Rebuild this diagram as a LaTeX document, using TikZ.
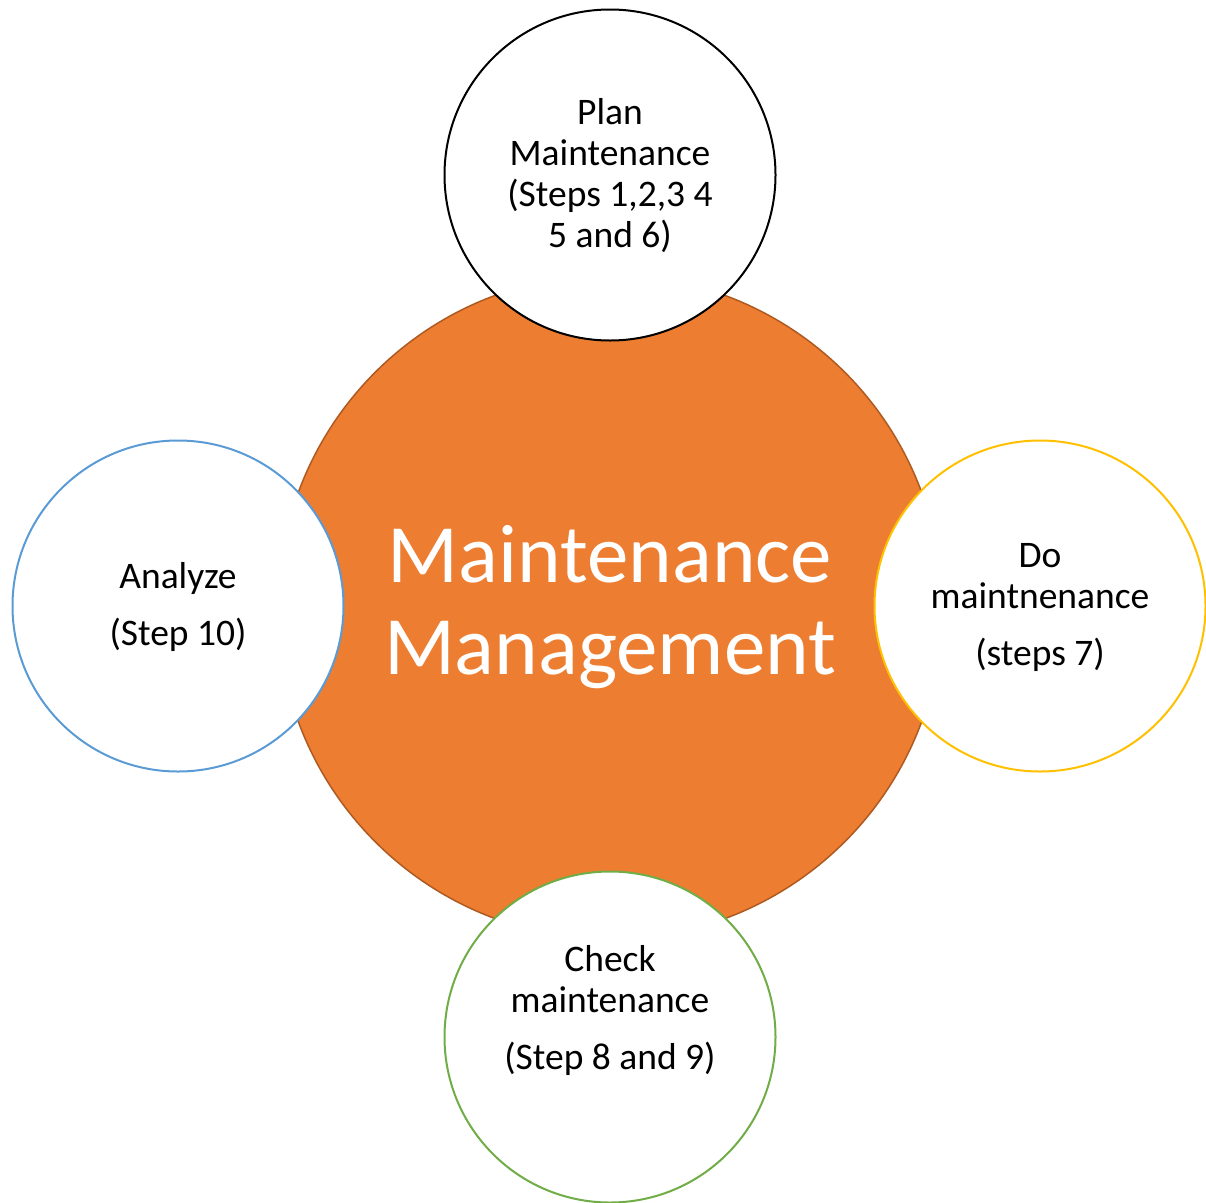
\documentclass[tikz,border=0pt]{standalone}
\usepackage{fontspec}
\setmainfont{Carlito}
\definecolor{orangefill}{HTML}{ED7D31}
\definecolor{orangeline}{HTML}{AE5A21}
\definecolor{goldline}{HTML}{FFC000}
\definecolor{greenline}{HTML}{70AD47}
\definecolor{blueline}{HTML}{5B9BD5}
\tikzset{
  small/.style={circle, fill=white, line width=2pt, minimum size=331pt, inner sep=0pt},
  label/.style={align=center, font=\fontsize{37.5}{41}\selectfont, text=black},
  bigtext/.style={align=center, font=\fontsize{83}{92}\selectfont, text=white}
}
\begin{document}
\begin{tikzpicture}[x=1pt,y=-1pt]
\useasboundingbox (0,0) rectangle (1206,1202);
\node[circle, fill=orangefill, draw=orangeline, line width=1.5pt, minimum size=664pt, inner sep=0pt] (main) at (610,607) {};
\node[bigtext] (maintext) at (610,607) {Maintenance\\Management};
\node[small, draw=black] (plan) at (610,175) {};
\node[small, draw=goldline] (do) at (1040,606) {};
\node[small, draw=greenline] (check) at (610,1037) {};
\node[small, draw=blueline] (analyze) at (178,606) {};
\node[label] (plantext) at (610,176) {Plan\\Maintenance\\(Steps 1,2,3 4\\5 and 6)};
\node[label] (dotext) at (1040,607) {Do\\maintnenance\\[16pt](steps 7)};
\node[label] (checktext) at (610,1010) {Check\\maintenance\\[16pt](Step 8 and 9)};
\node[label] (analyzetext) at (178,607) {Analyze\\[16pt](Step 10)};
\end{tikzpicture}
\end{document}
